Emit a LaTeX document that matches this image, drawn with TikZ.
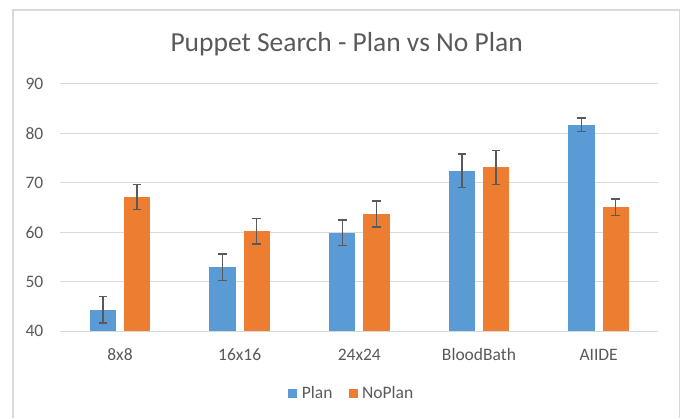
\documentclass[tikz,border=0pt]{standalone}
\usepackage{fontspec}
\setmainfont{Carlito}
\usepackage{xcolor}
\usepackage{tikz}
\usetikzlibrary{positioning}
\definecolor{planblue}{HTML}{5B9BD5}
\definecolor{noplanorange}{HTML}{ED7D31}
\definecolor{textgray}{HTML}{595959}
\definecolor{linegray}{HTML}{D9D9D9}
\tikzset{
  chartframe/.style={draw=linegray, line width=1.5pt},
  gridline/.style={draw=linegray, line width=1.2pt},
  ticklabel/.style={text=textgray, font=\fontsize{17.5}{20}\selectfont, inner sep=0pt, anchor=east},
  catlabel/.style={text=textgray, font=\fontsize{17.5}{20}\selectfont, inner sep=0pt, anchor=base},
  charttitle/.style={text=textgray, font=\fontsize{27.5}{32}\selectfont, inner sep=0pt, anchor=base},
  planbar/.style={fill=planblue},
  noplanbar/.style={fill=noplanorange},
  errbar/.style={draw=textgray, line width=1.3pt},
  legkey/.style={minimum size=9pt, inner sep=0pt},
  legtext/.style={text=textgray, font=\fontsize{17.5}{20}\selectfont, inner sep=0pt, anchor=base west},
}

\begin{document}
\begin{tikzpicture}[x=1pt, y=1pt]
\useasboundingbox (0,0) rectangle (682,418);
% chart area
\draw[chartframe] (13,0) -- (13,408) -- (679.3,408) -- (679.3,0);
\node[charttitle] (title) at (346.7,366.3) {Puppet Search - Plan vs No Plan};
% value axis: 40 at y=86.7, 4.95pt per unit
\foreach \v in {40,50,...,90}{
  \pgfmathsetmacro\yy{86.7+(\v-40)*4.95}
  \draw[gridline] (60,\yy) -- (658.3,\yy);
  \node[ticklabel] (tick\v) at (43.5,\yy) {\v};
}
% bars with error bars
\foreach \name/\p/\pe/\q/\qe [count=\i] in {8x8/44.4/2.7/67.1/2.55, 16x16/52.9/2.7/60.2/2.55, 24x24/59.9/2.6/63.7/2.6, BloodBath/72.4/3.4/73.1/3.4, AIIDE/81.7/1.4/65.1/1.65}{
  \pgfmathsetmacro\c{60.2+119.65*(\i-0.5)}
  \fill[planbar] (\c-30.2,86.7) rectangle (\c-3.9,{86.7+(\p-40)*4.95});
  \fill[noplanbar] (\c+3.9,86.7) rectangle (\c+30.2,{86.7+(\q-40)*4.95});
  \draw[errbar] (\c-17.05,{86.7+(\p-\pe-40)*4.95}) -- (\c-17.05,{86.7+(\p+\pe-40)*4.95})
    (\c-21.4,{86.7+(\p-\pe-40)*4.95}) -- (\c-12.7,{86.7+(\p-\pe-40)*4.95})
    (\c-21.4,{86.7+(\p+\pe-40)*4.95}) -- (\c-12.7,{86.7+(\p+\pe-40)*4.95});
  \draw[errbar] (\c+17.05,{86.7+(\q-\qe-40)*4.95}) -- (\c+17.05,{86.7+(\q+\qe-40)*4.95})
    (\c+12.7,{86.7+(\q-\qe-40)*4.95}) -- (\c+21.4,{86.7+(\q-\qe-40)*4.95})
    (\c+12.7,{86.7+(\q+\qe-40)*4.95}) -- (\c+21.4,{86.7+(\q+\qe-40)*4.95});
  \node[catlabel] (cat\i) at (\c,58) {\name};
}
% legend
\node[legkey, fill=planblue] (keyplan) at (292.8,24.2) {};
\node[legtext] (txtplan) at (301.7,19.7) {Plan};
\node[legkey, fill=noplanorange, right=16.3pt of txtplan.east |- keyplan] (keynoplan) {};
\node[legtext] (txtnoplan) at ([xshift=3.5pt]keynoplan.east |- txtplan.base) {NoPlan};
\end{tikzpicture}
\end{document}
